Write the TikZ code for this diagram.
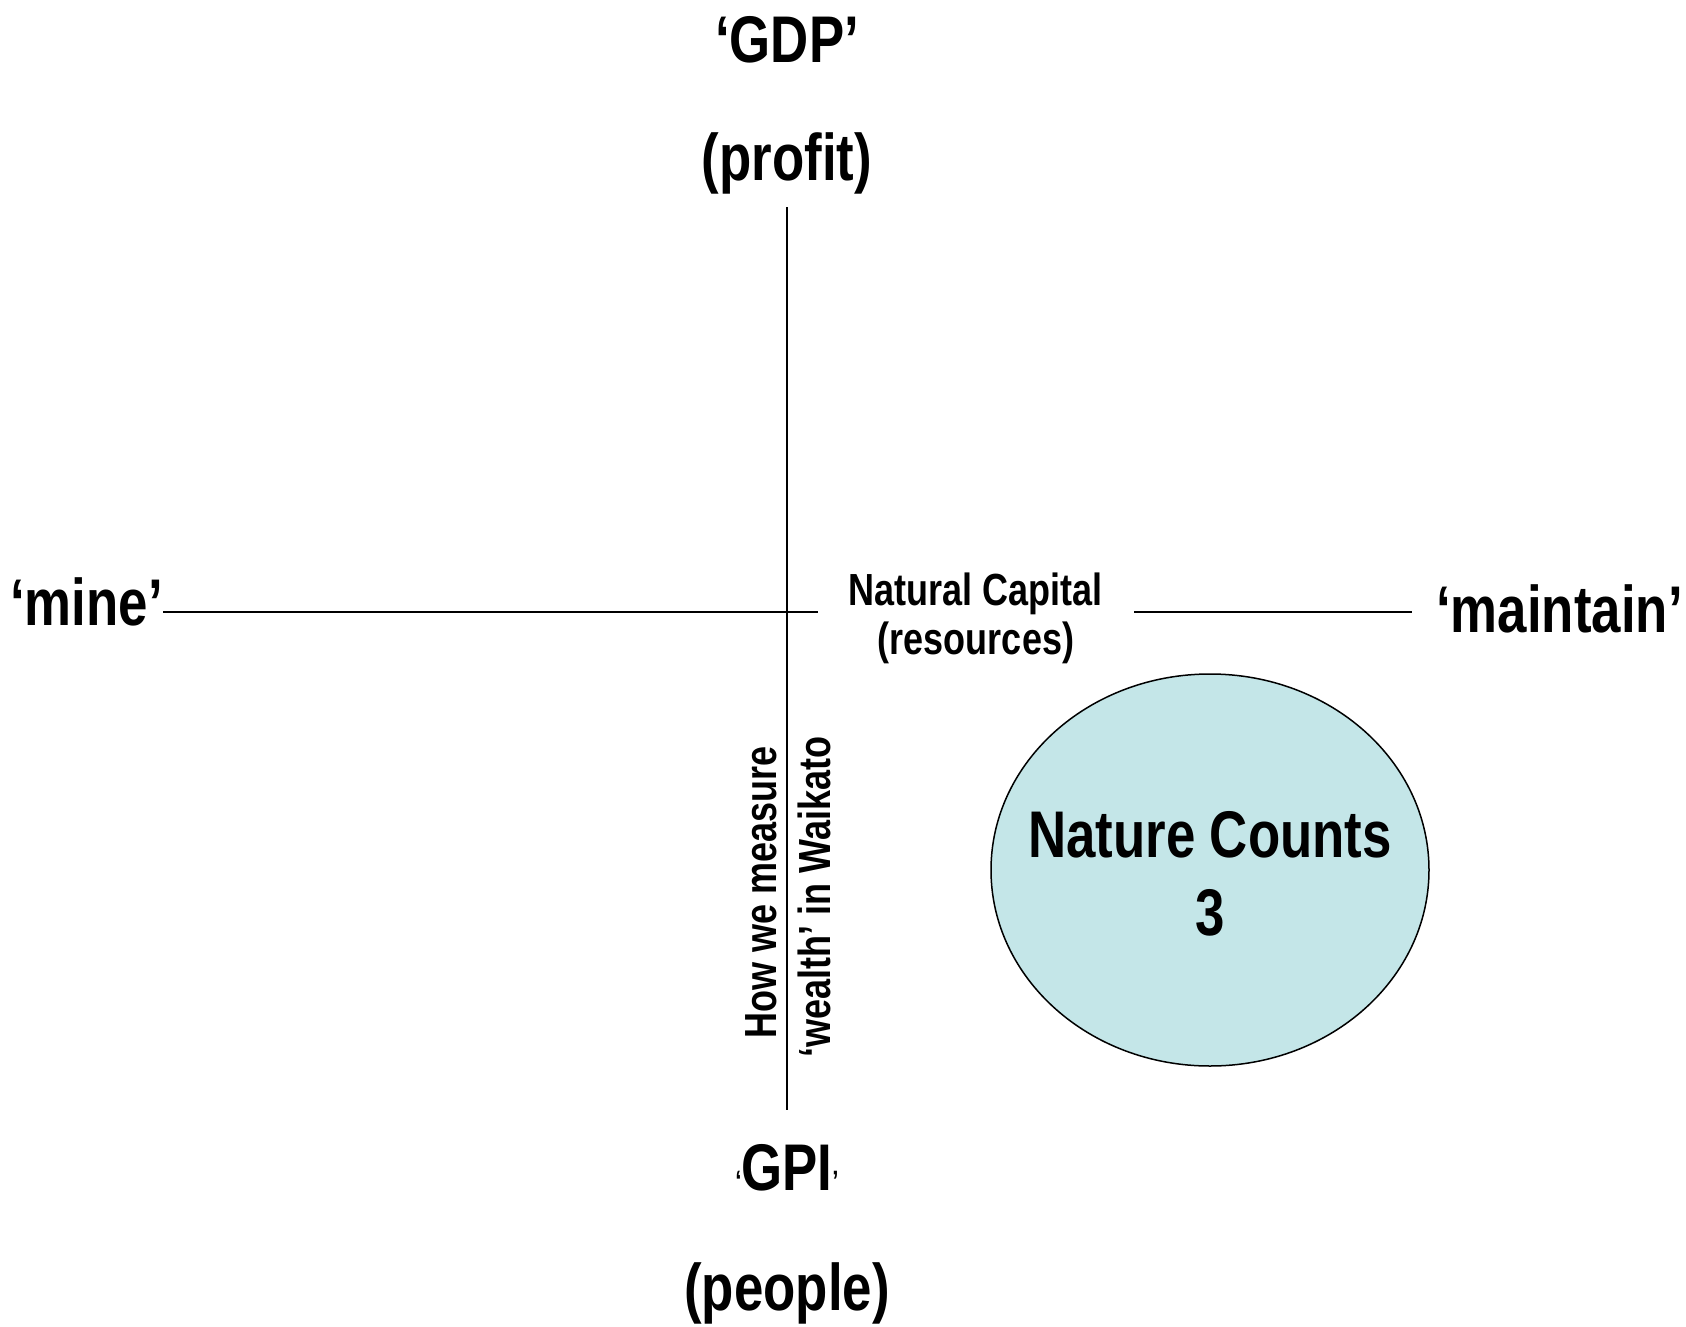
\documentclass[tikz,border=0pt]{standalone}
\usepackage{fontspec}
\setmainfont{Liberation Sans}[FakeStretch=0.8]
\usetikzlibrary{shapes.geometric}
\definecolor{bubble}{RGB}{196,230,232}
\tikzset{
  axis/.style={draw=black,line width=1.6pt},
  big/.style={inner sep=0pt,anchor=base,font=\fontsize{66}{66}\selectfont\bfseries},
  small/.style={inner sep=0pt,anchor=base,font=\fontsize{45}{45}\selectfont\bfseries},
  bubblenode/.style={ellipse,draw=black,line width=1.5pt,fill=bubble,inner sep=0pt,
    minimum width=438pt,minimum height=392pt},
  bubbletext/.style={inner sep=0pt,align=center,font=\fontsize{66}{78}\selectfont\bfseries}
}
\begin{document}
\begin{tikzpicture}[x=1pt,y=-1pt]
\useasboundingbox (0,0) rectangle (1686,1327);
% labels
\node[big] (gdp) at (787,63) {‘GDP’};
\node[big] (profit) at (787,180) {(profit)};
\node[big,anchor=base east] (mine) at (163,625) {‘mine’};
\node[big,anchor=base west] (maintain) at (1436,632) {‘maintain’};
\node[big] (gpi) at (787,1190) {{\fontsize{28}{28}\selectfont ‘}GPI{\fontsize{28}{28}\selectfont ’}};
\node[big] (people) at (787,1310) {(people)};
\node[small] (nc1) at (976,605) {Natural Capital};
\node[small] (nc2) at (976,654) {(resources)};
\node[small,rotate=90] (how1) at (776,892) {How we measure};
\node[small,rotate=90] (how2) at (830,897) {‘wealth’ in Waikato};
\node[bubblenode] (nature) at (1210,870) {};
\node[bubbletext] (naturetext) at ([yshift=-4pt]nature.center) {Nature Counts\\3};
% axes
\coordinate (vtop) at (787,207);
\coordinate (vbot) at (787,1110);
\coordinate (hmid) at (818,612);
\coordinate (hr1) at (1134,612);
\coordinate (hr2) at (1412,612);
\draw[axis] (vtop) -- (vbot);
\draw[axis] (mine.east |- hmid) -- (hmid);
\draw[axis] (hr1) -- (hr2);
\end{tikzpicture}
\end{document}
